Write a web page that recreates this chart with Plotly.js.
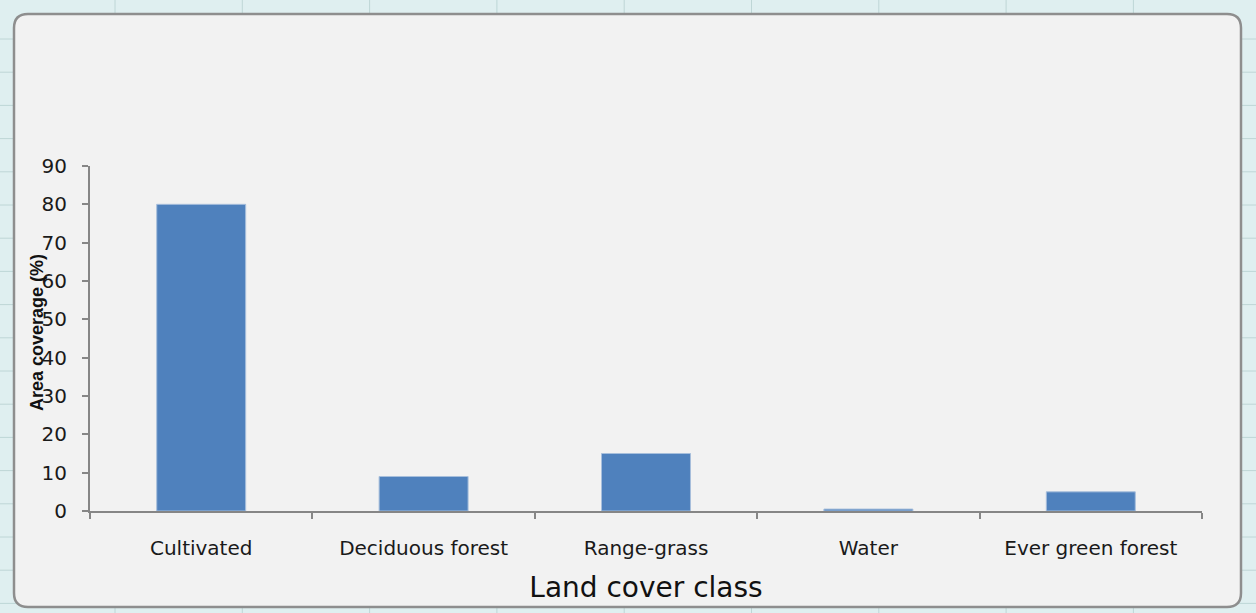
<!DOCTYPE html>
<html>
<head>
<meta charset="utf-8">
<script src="https://cdn.plot.ly/plotly-3.0.1.min.js"></script>
<style>html,body{margin:0;padding:0;background:#dfeff0;}#chart{width:1256px;height:613px;}</style>
</head>
<body>
<div id="chart"></div>
<script>
var categories = ["Cultivated", "Deciduous forest", "Range-grass", "Water", "Ever green forest"];
var areaCoverage = [80, 9, 15, 0.5, 5];
var yTickValues = [0, 10, 20, 30, 40, 50, 60, 70, 80, 90];
var xTitle = "Land cover class";
var yTitle = "Area coverage (%)";

var W = 1256, H = 613;
var mL = 90, mR = 54, mT = 166, mB = 102;
var pw = W - mL - mR, ph = H - mT - mB;
function px(x){ return (x - mL) / pw; }
function py(y){ return (H - mB - y) / ph; }

var shapes = [];
// spreadsheet gridlines outside the chart
for (var gx = 115; gx < W; gx += 127.3) {
  shapes.push({type:'line', xref:'paper', yref:'paper', x0:px(gx), x1:px(gx), y0:py(0), y1:py(H), line:{color:'#bed6d6', width:1}, layer:'below'});
}
for (var gy = 39; gy < H; gy += 33.2) {
  shapes.push({type:'line', xref:'paper', yref:'paper', x0:px(0), x1:px(W), y0:py(gy), y1:py(gy), line:{color:'#bed6d6', width:1}, layer:'below'});
}
// rounded chart area
var L = 14, R = 1241, T = 14, B = 607, r = 14;
function P(x, y){ return px(x) + ',' + py(y); }
var path = 'M' + P(L + r, T) + ' L' + P(R - r, T) + ' Q' + P(R, T) + ' ' + P(R, T + r) +
  ' L' + P(R, B - r) + ' Q' + P(R, B) + ' ' + P(R - r, B) +
  ' L' + P(L + r, B) + ' Q' + P(L, B) + ' ' + P(L, B - r) +
  ' L' + P(L, T + r) + ' Q' + P(L, T) + ' ' + P(L + r, T) + ' Z';
shapes.push({type:'path', xref:'paper', yref:'paper', path:path, fillcolor:'#f2f2f2', line:{color:'#8e8e8e', width:2.5}, layer:'below'});

var trace = {
  type: 'bar',
  x: categories,
  y: areaCoverage,
  marker: {color: '#4f81bd', line: {color: '#a7bfdc', width: 1}},
  hoverinfo: 'x+y'
};

var layout = {
  width: W, height: H,
  margin: {l: mL, r: mR, t: mT, b: mB, pad: 0},
  paper_bgcolor: '#dfeff0',
  plot_bgcolor: 'rgba(0,0,0,0)',
  bargap: 0.6,
  showlegend: false,
  shapes: shapes,
  xaxis: {
    type: 'category',
    tickson: 'boundaries',
    ticks: 'outside', ticklen: 6, tickwidth: 1.5, tickcolor: '#868686',
    showline: true, linecolor: '#868686', linewidth: 2,
    showgrid: false, zeroline: false,
    tickfont: {family: 'DejaVu Sans', size: 20, color: '#1a1a1a'},
    ticklabelstandoff: 18,
    title: {text: xTitle, font: {family: 'DejaVu Sans', size: 28, color: '#111'}, standoff: 18}
  },
  yaxis: {
    range: [0, 90],
    tickvals: yTickValues,
    ticks: 'outside', ticklen: 6, tickwidth: 1.5, tickcolor: '#868686',
    showline: true, linecolor: '#868686', linewidth: 2,
    showgrid: false, zeroline: false,
    tickfont: {family: 'DejaVu Sans', size: 20, color: '#1a1a1a'},
    ticklabelstandoff: 11
  },
  annotations: [{
    text: '<b>' + yTitle + '</b>', textangle: -90,
    xref: 'paper', yref: 'paper', x: px(37), y: py(333),
    xanchor: 'center', yanchor: 'middle', showarrow: false,
    font: {family: 'Liberation Sans Narrow, Liberation Sans', size: 18, color: '#111'}
  }]
};

Plotly.newPlot('chart', [trace], layout, {displayModeBar: false, responsive: false});
</script>
</body>
</html>
